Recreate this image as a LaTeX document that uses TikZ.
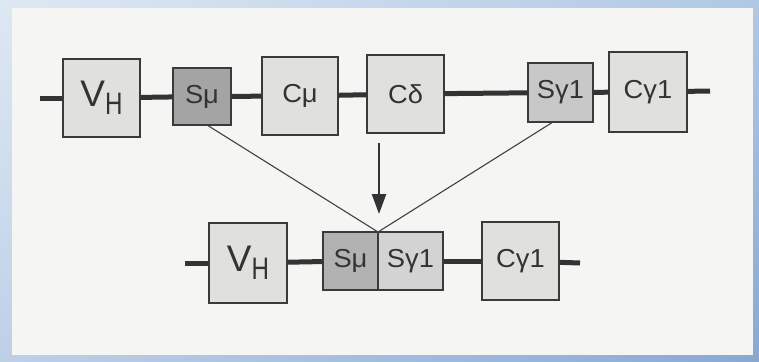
\documentclass[tikz,border=0pt]{standalone}
\usepackage{fontspec}
\setmainfont{Liberation Sans}
\usetikzlibrary{arrows.meta,shadings}
\definecolor{boxline}{HTML}{3A3A3A}
\definecolor{lightfill}{HTML}{E0E0DE}
\definecolor{darkfill}{HTML}{A4A4A4}
\definecolor{midfill}{HTML}{C8C8C8}
\definecolor{paper}{HTML}{F5F5F3}
\definecolor{fUL}{RGB}{222,232,243}
\definecolor{fUR}{RGB}{176,200,228}
\definecolor{fLL}{RGB}{190,208,232}
\definecolor{fLR}{RGB}{136,168,212}
\newcommand{\lbl}[1]{\fontsize{26}{26}\selectfont\scalebox{1.05}[1]{#1}}
\newcommand{\vh}{\fontsize{37}{37}\selectfont V\raisebox{-8pt}{\fontsize{31}{31}\selectfont\scalebox{0.78}[1]{H}}}
\tikzset{
  gene/.style={draw=boxline, line width=1.4pt, fill=lightfill, inner sep=0pt, text=black!80},
  backbone/.style={draw=black!80, line width=5pt},
  thinline/.style={draw=black!75, line width=1.1pt},
}
\begin{document}
\begin{tikzpicture}[x=1pt,y=-1pt]
\useasboundingbox (0,0) rectangle (759,361);
\shade[upper left=fUL, upper right=fUR, lower left=fLL, lower right=fLR]
  (0,0) rectangle (759,361);
\fill[paper] (12,8) rectangle (753,355);
% top row
\node[gene, minimum width=77pt, minimum height=78pt] (vh1) at (101.5,98) {\vh};
\node[gene, fill=darkfill, minimum width=58pt, minimum height=57pt] (smu1) at (202,96.5) {\lbl{Sμ}};
\node[gene, minimum width=76pt, minimum height=78pt] (cmu) at (300,96) {\lbl{Cμ}};
\node[gene, minimum width=77pt, minimum height=78pt] (cdelta) at (405.5,94) {\lbl{Cδ}};
\node[gene, fill=midfill, minimum width=65pt, minimum height=59pt] (sg1) at (560.5,92.5) {\lbl{Sγ1}};
\node[gene, minimum width=78pt, minimum height=80pt] (cg1) at (648,92) {\lbl{Cγ1}};
\coordinate (t0) at (40,98);
\coordinate (t1) at (710,91);
\draw[backbone] (t0) -- (vh1);
\draw[backbone] (vh1) -- (smu1);
\draw[backbone] (smu1) -- (cmu);
\draw[backbone] (cmu) -- (cdelta);
\draw[backbone] (cdelta) -- (sg1);
\draw[backbone] (sg1) -- (cg1);
\draw[backbone] (cg1) -- (t1);
% bottom row
\node[gene, minimum width=78pt, minimum height=80pt] (vh2) at (248,263) {\vh};
\node[gene, fill=darkfill!85!white, minimum width=55pt, minimum height=58pt] (smu2) at (350.5,261) {\lbl{Sμ}};
\node[gene, fill=midfill!80!white, minimum width=65pt, minimum height=58pt] (sg2) at (410.5,261) {\lbl{Sγ1}};
\node[gene, minimum width=77pt, minimum height=78pt] (cg2) at (520.5,261) {\lbl{Cγ1}};
\coordinate (b0) at (185,263);
\coordinate (b1) at (580,263);
\draw[backbone] (b0) -- (vh2);
\draw[backbone] (vh2) -- (smu2);
\draw[backbone] (sg2) -- (cg2);
\draw[backbone] (cg2) -- (b1);
% recombination lines
\coordinate (d1) at (207,125);
\coordinate (d2) at (553,122);
\coordinate (j) at (378,232);
\draw[thinline] (d1) -- (j);
\draw[thinline] (d2) -- (j);
% arrow
\coordinate (a0) at (379,143);
\coordinate (a1) at (379,214);
\draw[draw=black!80, line width=2.4pt, -{Triangle[length=20pt,width=14pt]}] (a0) -- (a1);
\end{tikzpicture}
\end{document}
